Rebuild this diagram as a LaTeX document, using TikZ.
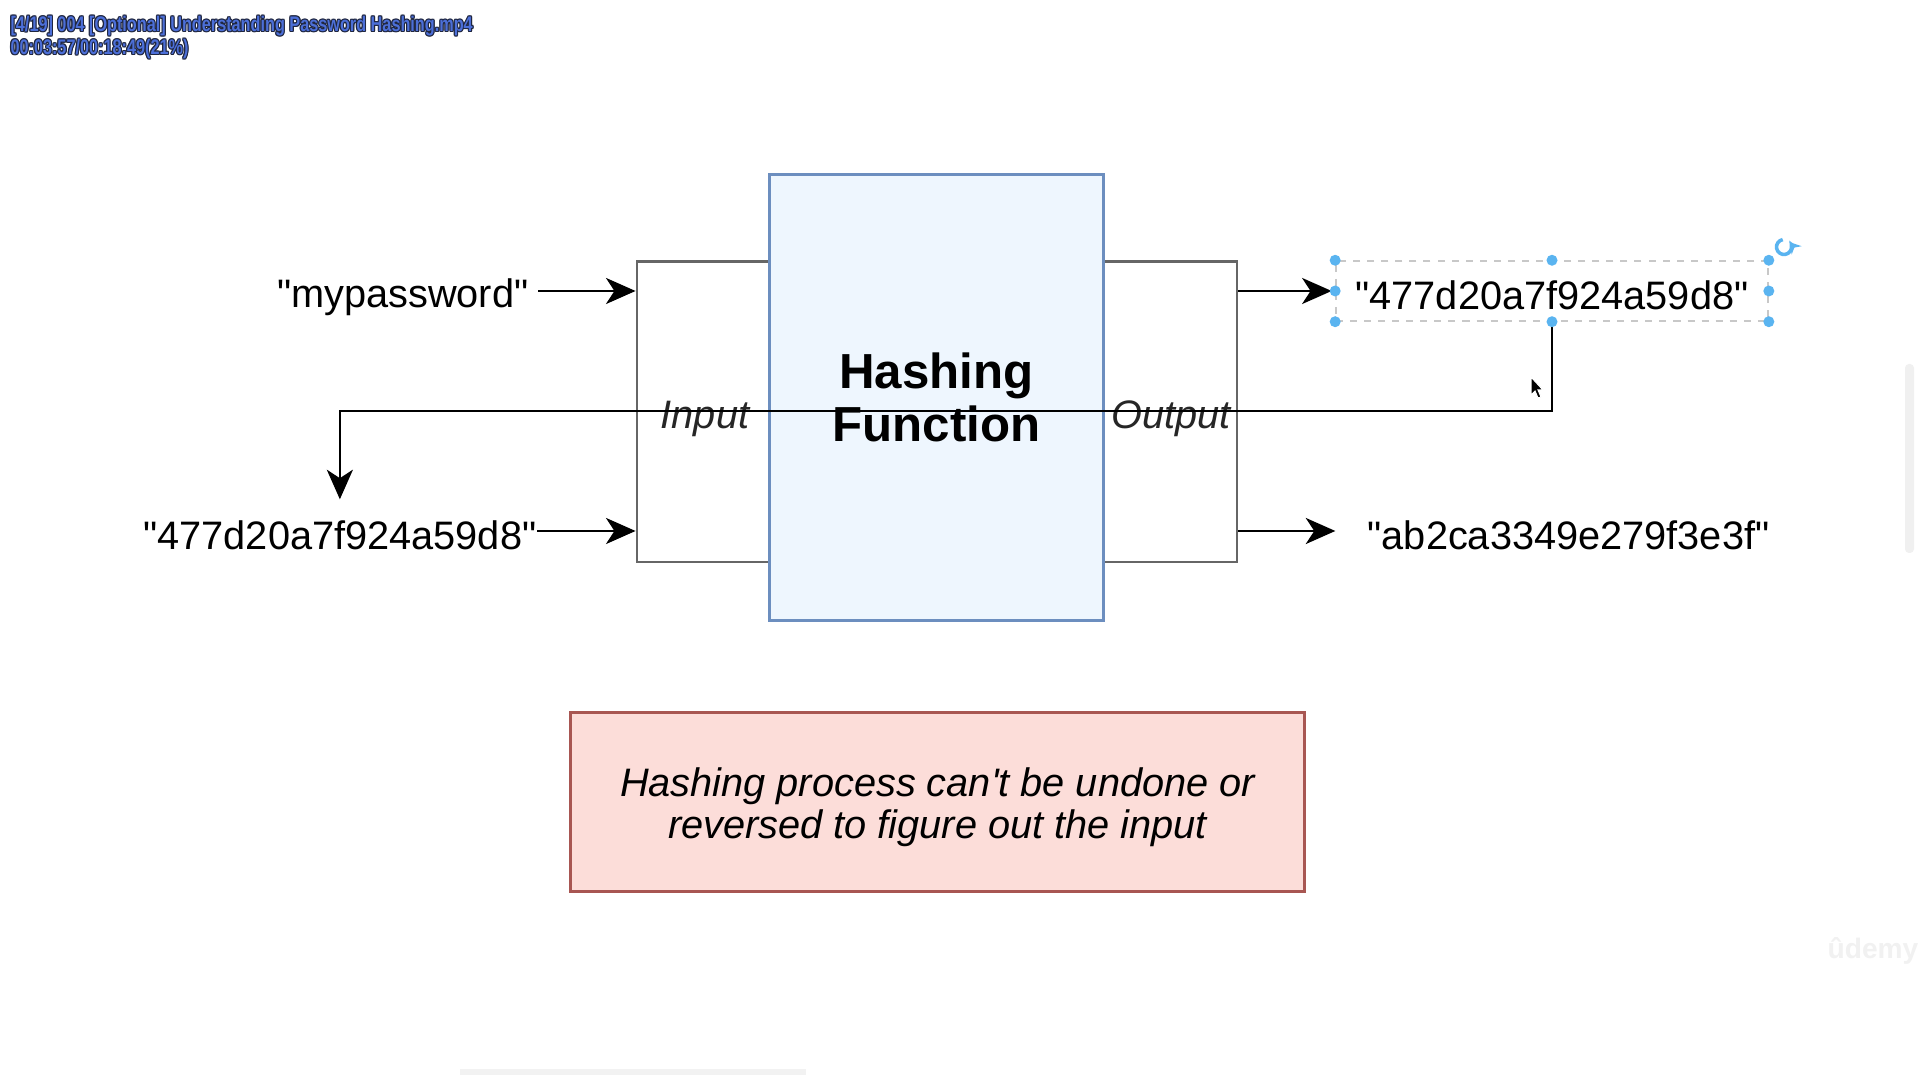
\documentclass[tikz,border=0pt]{standalone}
\usepackage{fontspec}
\setmainfont{Liberation Sans}[Ligatures=TeXOff]
\usetikzlibrary{arrows.meta}
\definecolor{hfill}{HTML}{EEF6FE}
\definecolor{hdraw}{HTML}{6C8EBF}
\definecolor{rfill}{HTML}{FCDDD9}
\definecolor{rdraw}{HTML}{A85652}
\definecolor{boxgray}{HTML}{666666}
\definecolor{selblue}{HTML}{5AB4F0}
\definecolor{selgray}{HTML}{C8C8C8}
\definecolor{ovblue}{HTML}{4C6FD8}
\definecolor{ovdark}{HTML}{1F2640}
\begin{document}
\begin{tikzpicture}[x=0.01cm,y=-0.01cm,
  txt/.style={font=\fontsize{11.3}{13.6}\selectfont, inner sep=0pt},
  lbl/.style={font=\fontsize{11.3}{13.6}\selectfont\itshape, text=black!85, inner sep=0pt},
  gbox/.style={draw=boxgray, line width=0.8pt, fill=white},
  arr/.style={line width=0.75pt, -{Stealth[length=8.4pt,width=7.4pt,inset=2.4pt]}},
  handle/.style={fill=selblue},
  ovl/.style={anchor=west, inner sep=0pt, font=\fontsize{6}{7}\selectfont\bfseries, xscale=0.77, transform shape},
]
\fill[white] (0,0) rectangle (1920,1080);
\useasboundingbox (0,0) rectangle (1920,1080);

% faint UI bits
\fill[gray!12, rounded corners=0.04cm] (1905,364) rectangle (1914,553);
\fill[gray!10] (460,1069) rectangle (806,1075);
\node[inner sep=0pt, text=gray!11, font=\fontsize{8}{9}\selectfont\bfseries] (wm) at (1873,951) {ûdemy};

% rows of the arrows
\coordinate (row1) at (0,291);
\coordinate (row2) at (0,531);

% side boxes
\node[gbox, minimum width=1.33cm, minimum height=3cm] (inbox) at (703.5,412) {};
\node[gbox, minimum width=1.34cm, minimum height=3cm] (outbox) at (1170,412) {};
\node[lbl] (inlbl) at (705,419) {Input};
\node[lbl] (outlbl) at (1171,419) {Output};

% hashing function
\node[draw=hdraw, fill=hfill, line width=0.9pt, minimum width=3.34cm, minimum height=4.45cm,
      align=center, font=\fontsize{14}{15.3}\selectfont\bfseries] (hf) at (936.5,397.5) {Hashing\\Function};

% texts
\node[txt, anchor=east] (pw) at (529,297) {"mypassword"};
\node[txt, anchor=east] (hashin) at (537,535) {"477d20a7f924a59d8"};
\node[txt, draw=selgray, dash pattern=on 2pt off 2pt, line width=0.4pt, text height=10.6pt,
      minimum width=4.32cm, minimum height=0.6cm] (hashout) at (1552,291) {"477d20a7f924a59d8"};
\node[txt, anchor=west] (hashres) at (1367,535) {"ab2ca3349e279f3e3f"};

% arrows
\draw[arr] (pw.east |- row1) ++(9,0) -- (inbox.west |- row1);
\draw[arr] (hashin.east |- row2) -- (inbox.west |- row2);
\draw[arr, shorten >=1pt] (outbox.east |- row1) -- (hashout.west);
\draw[arr, shorten >=9pt] (outbox.east |- row2) -- (hashres.west |- row2);
\coordinate (turn) at (1552,411);
\draw[arr, shorten >=5.8pt] (hashout.south) -- (hashout.south |- turn) -| (hashin.north);

% selection handles
\foreach \a in {north west, north, north east, east, south east, south, south west, west}
  \fill[handle] (hashout.\a) circle[radius=0.055cm];
% rotate icon
\coordinate (rot) at (1784,247);
\draw[selblue, line width=1pt, -{Stealth[length=3pt,width=3.6pt]}]
  ([shift={(100:0.075cm)}]rot) arc[start angle=100, end angle=400, radius=0.075cm];

% cursor
\coordinate (cur) at (1531,377);
\filldraw[fill=black, draw=white, line width=0.3pt]
  (cur) -- ++(0,18) -- ++(4,-4) -- ++(3,7) -- ++(3,-1) -- ++(-3,-7) -- ++(5,0) -- cycle;

% bottom note
\node[draw=rdraw, fill=rfill, line width=0.85pt, minimum width=7.33cm, minimum height=1.78cm] (note) at (937.5,802) {};
\node[align=center, inner sep=0pt, font=\fontsize{11.3}{11.9}\selectfont\itshape] (notetxt) at (937.5,807)
      {Hashing process can't be undone or\\reversed to figure out the input};

% overlay player text
\begin{scope}[shift={(10,26)}]
  \foreach \dx/\dy [count=\i] in {-1.1/0,1.1/0,0/-1.1,0/1.1,-0.8/-0.8,0.8/0.8,-0.8/0.8,0.8/-0.8}
    \node[ovl, text=ovdark] (ovA\i) at (\dx,\dy) {[4/19] 004 [Optional] Understanding Password Hashing.mp4};
  \node[ovl, text=ovblue] (ovA) at (0,0) {[4/19] 004 [Optional] Understanding Password Hashing.mp4};
\end{scope}
\begin{scope}[shift={(10,49)}]
  \foreach \dx/\dy [count=\i] in {-1.1/0,1.1/0,0/-1.1,0/1.1,-0.8/-0.8,0.8/0.8,-0.8/0.8,0.8/-0.8}
    \node[ovl, text=ovdark] (ovB\i) at (\dx,\dy) {00:03:57/00:18:49(21\%)};
  \node[ovl, text=ovblue] (ovB) at (0,0) {00:03:57/00:18:49(21\%)};
\end{scope}
\end{tikzpicture}
\end{document}
